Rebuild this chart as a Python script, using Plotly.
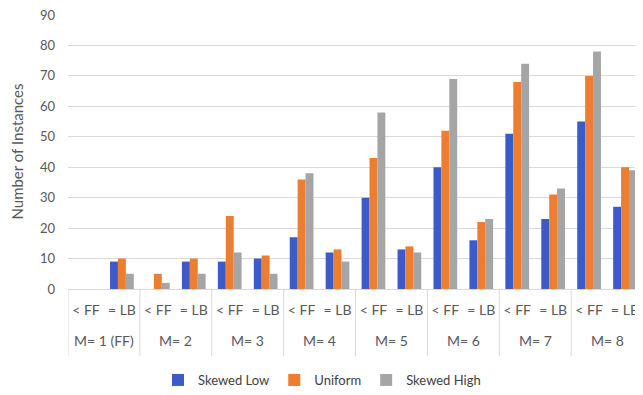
import plotly.graph_objects as go

groups = ["M= 1 (FF)", "M= 2", "M= 3", "M= 4", "M= 5", "M= 6", "M= 7", "M= 8"]
subs = ["< FF", "= LB"]

skewed_low = [0, 9, 0, 9, 9, 10, 17, 12, 30, 13, 40, 16, 51, 23, 55, 27]
uniform = [0, 10, 5, 10, 24, 11, 36, 13, 43, 14, 52, 22, 68, 31, 70, 40]
skewed_high = [0, 5, 2, 5, 12, 5, 38, 9, 58, 12, 69, 23, 74, 33, 78, 39]
y_ticks = [0, 10, 20, 30, 40, 50, 60, 70, 80, 90]

x_cats = [f"{g} | {s}" for g in groups for s in subs]
x_text = [s for _ in groups for s in subs]

font = "Lato, Open Sans, sans-serif"
grey = "#595959"
line = "#D9D9D9"
OFF = 8  # page body margin offset
top, bottom, left = 14 - OFF, 289 - OFF, 68 - OFF
plot_h = bottom - top

fig = go.Figure()
for name, vals, col in [("Skewed Low", skewed_low, "#3B5BC8"),
                        ("Uniform", uniform, "#ED7D31"),
                        ("Skewed High", skewed_high, "#A5A5A5")]:
    fig.add_trace(go.Bar(x=x_cats, y=vals, name=name, marker_color=col,
                         marker_line_width=0))

for i, g in enumerate(groups):
    fig.add_annotation(x=2 * i + 0.5, xref="x", y=-(340 - 289) / plot_h, yref="paper",
                       text=g, showarrow=False, yanchor="middle",
                       font=dict(family=font, size=14, color=grey))
    fig.add_shape(type="line", xref="x", yref="paper", x0=2 * i - 0.5, x1=2 * i - 0.5,
                  y0=0, y1=-(356 - 289) / plot_h, line=dict(color=line, width=1))

fig.update_layout(
    width=643, height=395,
    margin=dict(l=left, r=OFF, t=top, b=395 - bottom),
    paper_bgcolor="white", plot_bgcolor="white",
    barmode="group", bargap=0.34, bargroupgap=0,
    font=dict(family=font, size=14, color=grey),
    legend=dict(orientation="h", x=(322 - 68) / 575, xanchor="center", yref="container",
                y=1 - (380 - OFF) / 395, yanchor="middle", font=dict(size=13, color="#404040"),
                traceorder="normal"),
    showlegend=True,
)
fig.update_yaxes(range=[0, 90.33], tickvals=y_ticks,
                 showgrid=True, gridcolor=line,
                 gridwidth=1, zeroline=False, showline=False, automargin=False,
                 title=dict(text="Number of Instances", font=dict(size=15, color=grey),
                            standoff=13),
                 ticks="", ticklabelstandoff=12, ticklabeloverflow="allow",
                 tickfont=dict(size=13, color=grey))
fig.update_xaxes(type="category", showline=True, linecolor=line, automargin=False,
                 tickvals=x_cats, ticktext=x_text, tickangle=0,
                 tickfont=dict(size=14, color=grey), ticklabelstandoff=8,
                 ticklabeloverflow="allow",
                 range=[-0.5, 15.5], ticks="")

fig.write_html("out.html")
